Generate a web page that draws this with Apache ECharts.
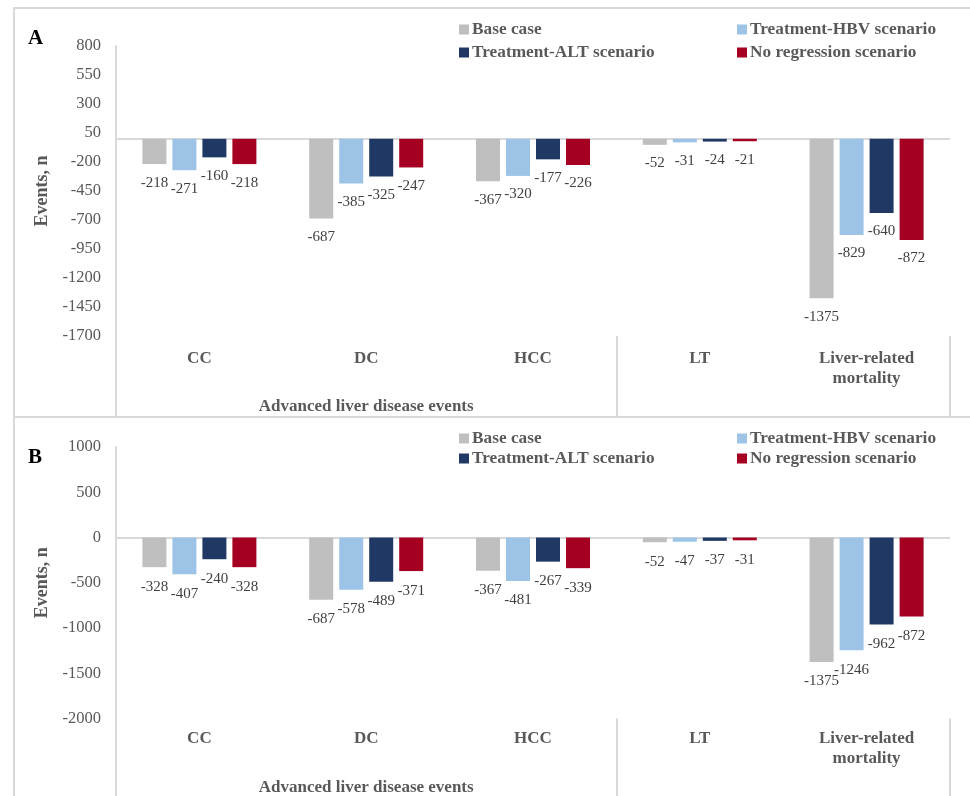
<!DOCTYPE html>
<html>
<head>
<meta charset="utf-8">
<script src="https://cdn.jsdelivr.net/npm/echarts@6/dist/echarts.min.js"></script>
<style>
  html, body { margin: 0; padding: 0; background: #fff; }
  #chart { width: 970px; height: 796px; }
</style>
</head>
<body>
<div id="chart"></div>
<script>
// Event categories (x axis) and the group label spanning the first three
const categories = ['CC', 'DC', 'HCC', 'LT', 'Liver-related\nmortality'];
const groupLabel = 'Advanced liver disease events';
const seriesNames = ['Base case', 'Treatment-HBV scenario', 'Treatment-ALT scenario', 'No regression scenario'];
const seriesColors = ['#BFBFBF', '#9DC3E6', '#1F3864', '#A50021'];

// Panel A values
const baseA = [-218, -687, -367, -52, -1375];
const hbvA = [-271, -385, -320, -31, -829];
const altA = [-160, -325, -177, -24, -640];
const noRegA = [-218, -247, -226, -21, -872];

// Panel B values
const baseB = [-328, -687, -367, -52, -1375];
const hbvB = [-407, -578, -481, -47, -1246];
const altB = [-240, -489, -267, -37, -962];
const noRegB = [-328, -371, -339, -31, -872];

// Y axis ranges
const yRangeA = { min: -1700, max: 800, interval: 250 };
const yRangeB = { min: -2000, max: 1000, interval: 500 };

const SERIF = "'Liberation Serif', 'Times New Roman', serif";
const GREY_TEXT = '#595959';
const LINE = '#D9D9D9';

const chart = echarts.init(document.getElementById('chart'), null, { renderer: 'canvas' });

function barSeries(name, data, color, idx, withZeroLine) {
  const s = {
    name: name,
    type: 'bar',
    xAxisIndex: idx * 2,
    yAxisIndex: idx,
    data: data,
    barWidth: 24,
    barGap: '25%',
    itemStyle: { color: color },
    label: {
      show: true,
      position: 'bottom',
      distance: idx === 0 ? 11 : 12,
      fontFamily: SERIF,
      fontSize: 15,
      color: '#404040'
    }
  };
  if (withZeroLine) {
    s.markLine = {
      silent: true,
      symbol: 'none',
      label: { show: false },
      lineStyle: { color: LINE, width: 2, type: 'solid' },
      data: [{ yAxis: 0 }],
      z: 1
    };
  }
  return s;
}

function catAxis(gridIndex, margin) {
  return {
    type: 'category',
    gridIndex: gridIndex,
    data: categories,
    position: 'bottom',
    axisLine: { show: false, onZero: false },
    axisTick: { show: false },
    axisLabel: {
      margin: margin,
      fontFamily: SERIF,
      fontSize: 17,
      fontWeight: 'bold',
      color: GREY_TEXT,
      lineHeight: 20,
      interval: 0
    },
    splitLine: { show: false }
  };
}

// Group-level axis: separator ticks at group boundaries and the group caption
function groupAxis(gridIndex, margin) {
  return {
    type: 'value',
    gridIndex: gridIndex,
    min: 0,
    max: categories.length,
    position: 'bottom',
    axisLine: { show: false, onZero: false },
    axisTick: {
      show: true,
      customValues: [0, 3, categories.length],
      length: 80,
      lineStyle: { color: LINE, width: 2 }
    },
    axisLabel: {
      show: true,
      customValues: [1.5],
      formatter: function () { return groupLabel; },
      margin: margin,
      fontFamily: SERIF,
      fontSize: 17,
      fontWeight: 'bold',
      color: GREY_TEXT
    },
    splitLine: { show: false }
  };
}

function valAxis(gridIndex, range) {
  return {
    type: 'value',
    gridIndex: gridIndex,
    min: range.min,
    max: range.max,
    interval: range.interval,
    name: 'Events, n',
    nameLocation: 'middle',
    nameGap: 52,
    nameTextStyle: { fontFamily: SERIF, fontSize: 18, fontWeight: 'bold', color: GREY_TEXT },
    axisLine: { show: true, lineStyle: { color: LINE, width: 2 } },
    axisTick: { show: false },
    axisLabel: {
      margin: 15,
      fontFamily: SERIF,
      fontSize: 16.5,
      color: GREY_TEXT,
      formatter: function (v) { return String(v); }
    },
    splitLine: { show: false }
  };
}

function legendColumn(names, left, top, gap) {
  return {
    data: names,
    orient: 'vertical',
    left: left,
    top: top,
    itemWidth: 10,
    itemHeight: 10,
    itemGap: gap,
    icon: 'rect',
    padding: 0,
    textStyle: { fontFamily: SERIF, fontSize: 17.3, fontWeight: 'bold', color: GREY_TEXT, padding: [0, 0, 0, -2] }
  };
}

const option = {
  animation: false,
  backgroundColor: '#fff',
  title: [
    { text: 'A', left: 28, top: 28, padding: 0, textStyle: { fontFamily: SERIF, fontSize: 21, fontWeight: 'bold', color: '#000' } },
    { text: 'B', left: 28, top: 447, padding: 0, textStyle: { fontFamily: SERIF, fontSize: 21, fontWeight: 'bold', color: '#000' } }
  ],
  graphic: [
    { type: 'rect', shape: { x: 14, y: 8, width: 980, height: 409 }, style: { fill: 'none', stroke: LINE, lineWidth: 2 }, silent: true, z: -1 },
    { type: 'rect', shape: { x: 14, y: 417, width: 980, height: 420 }, style: { fill: 'none', stroke: LINE, lineWidth: 2 }, silent: true, z: -1 }
  ],
  legend: [
    legendColumn([seriesNames[0], seriesNames[2]], 459, 21, 6),
    legendColumn([seriesNames[1], seriesNames[3]], 737, 21, 6),
    legendColumn([seriesNames[0], seriesNames[2]], 459, 430, 3),
    legendColumn([seriesNames[1], seriesNames[3]], 737, 430, 3)
  ],
  grid: [
    { left: 116, top: 46, width: 834, height: 290, containLabel: false },
    { left: 116, top: 447, width: 834, height: 274, containLabel: false }
  ],
  xAxis: [
    catAxis(0, 12.5),
    groupAxis(0, 62),
    catAxis(1, 10.5),
    groupAxis(1, 60.5)
  ],
  yAxis: [
    valAxis(0, yRangeA),
    valAxis(1, yRangeB)
  ],
  series: [
    barSeries(seriesNames[0], baseA, seriesColors[0], 0, true),
    barSeries(seriesNames[1], hbvA, seriesColors[1], 0, false),
    barSeries(seriesNames[2], altA, seriesColors[2], 0, false),
    barSeries(seriesNames[3], noRegA, seriesColors[3], 0, false),
    barSeries(seriesNames[0], baseB, seriesColors[0], 1, true),
    barSeries(seriesNames[1], hbvB, seriesColors[1], 1, false),
    barSeries(seriesNames[2], altB, seriesColors[2], 1, false),
    barSeries(seriesNames[3], noRegB, seriesColors[3], 1, false)
  ]
};

chart.setOption(option);
</script>
</body>
</html>
